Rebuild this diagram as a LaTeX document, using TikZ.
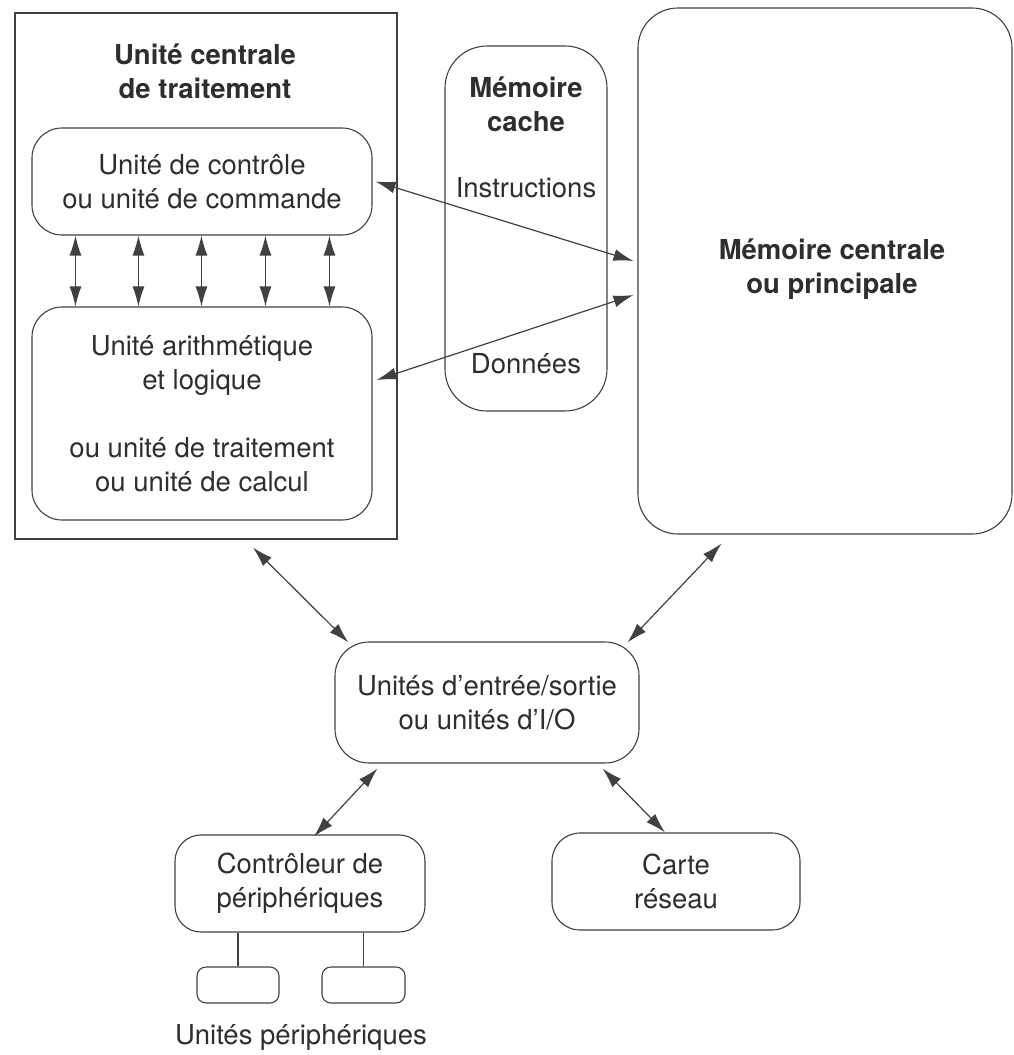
\documentclass[tikz,border=0pt]{standalone}
\usepackage{fontspec}
\setmainfont{TeX Gyre Heros}
\usetikzlibrary{arrows.meta}
\definecolor{linec}{gray}{0.25}
\definecolor{txtc}{gray}{0.18}
\begin{document}
\begin{tikzpicture}[x=1pt,y=-1pt,
  txt/.style={font=\fontsize{27.5}{34}\selectfont, text=txtc, align=center, inner sep=0pt},
  btxt/.style={font=\fontsize{27.5}{34}\selectfont\bfseries, text=txtc, align=center, inner sep=0pt},
  rbox/.style={draw=linec, line width=1.1pt, rounded corners=#1, inner sep=0pt, align=center,
    font=\fontsize{27.5}{34}\selectfont, text=txtc},
  rbox/.default=28pt,
  dbl/.style={{Latex[length=20pt,width=12pt]}-{Latex[length=20pt,width=12pt]}, draw=linec, line width=1.2pt},
  conn/.style={draw=linec, line width=1.2pt}]
\useasboundingbox (0,0) rectangle (1013,1055);

% CPU
\node[draw=linec, line width=1.1pt, minimum width=382pt, minimum height=526pt, inner sep=0pt] (cpu) at (206,276) {};
\node[btxt] (cputitle) at (205,71) {Unité centrale\\de traitement};
\node[rbox=30pt, minimum width=340pt, minimum height=107pt] (ctrl) at (202,181.5) {Unité de contrôle\\ou unité de commande};
\node[rbox=30pt, minimum width=340pt, minimum height=213pt] (alu) at (202,413.5) {Unité arithmétique\\et logique\\[34pt]ou unité de traitement\\ou unité de calcul};
\foreach \s in {44,107,170,234,298}
  \draw[dbl] ([xshift=\s pt]ctrl.south west) -- ([xshift=\s pt]alu.north west);

% cache
\node[rbox=42pt, minimum width=162pt, minimum height=365pt] (cache) at (526,228.5) {};
\node[btxt] (cachetitle) at (526,104) {Mémoire\\cache};
\node[txt] (instr) at (526,188) {Instructions};
\node[txt] (donn) at (526,364) {Données};

% main memory
\node[rbox=40pt, minimum width=374pt, minimum height=526pt] (mem) at (825,271) {};
\node[btxt] (memtitle) at (832,269) {Mémoire centrale\\ou principale};

\draw[dbl] ([xshift=3pt]ctrl.east) -- ([xshift=-4pt,yshift=10pt]mem.west);
\draw[dbl] ([xshift=4pt,yshift=33.5pt]alu.east) -- ([xshift=-4pt,yshift=-24pt]mem.west);

% I/O
\node[rbox=34pt, minimum width=304pt, minimum height=121pt] (io) at (487,702.5) {Unités d'entrée/sortie\\ou unités d'I/O};
\draw[dbl] ([xshift=47pt,yshift=-8pt]cpu.south) -- ([xshift=14pt,yshift=-1pt]io.north west);
\draw[dbl] ([xshift=84pt,yshift=-9pt]mem.south west) -- ([xshift=-12pt,yshift=-1pt]io.north east);

% controller and network card
\node[rbox=26pt, minimum width=250pt, minimum height=97pt] (ctrlp) at (300,883.5) {Contrôleur de\\périphériques};
\node[rbox=28pt, minimum width=248pt, minimum height=97pt] (carte) at (676,881.5) {Carte\\réseau};
\draw[dbl] ([xshift=43pt,yshift=-5pt]io.south west) -- ([xshift=14pt,yshift=-2pt]ctrlp.north);
\draw[dbl] ([xshift=-37pt,yshift=-5pt]io.south east) -- ([xshift=-11pt]carte.north);

% peripheral units
\node[rbox=9pt, minimum width=82pt, minimum height=36pt] (p1) at (238,985) {};
\node[rbox=9pt, minimum width=83pt, minimum height=36pt] (p2) at (363.5,985) {};
\draw[conn] (p1.north) -- (p1.north |- ctrlp.south);
\draw[conn] (p2.north) -- (p2.north |- ctrlp.south);
\node[txt] (plabel) at (301,1037) {Unités périphériques};
\end{tikzpicture}
\end{document}
